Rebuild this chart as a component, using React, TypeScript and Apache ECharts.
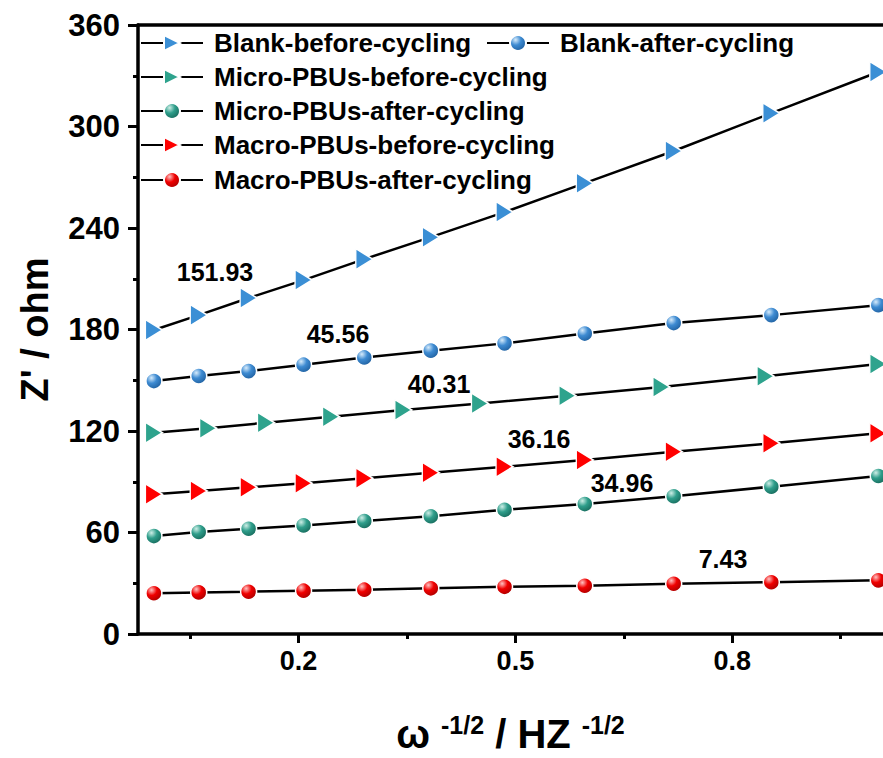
import React, { useEffect, useRef } from "react";
import * as echarts from "echarts";

// ω^-1/2 values (shared by most series)
const xCommon = [0.0, 0.062, 0.131, 0.207, 0.291, 0.383, 0.485, 0.596, 0.719, 0.854, 1.002];
// ω^-1/2 values for Micro-PBUs-before-cycling
const xMicroBefore = [0.0, 0.075, 0.155, 0.245, 0.345, 0.451, 0.572, 0.702, 0.846, 1.002];

const blankBefore = [179.7, 188.5, 198.6, 209.2, 221.6, 234.6, 249.4, 266.5, 285.5, 307.9, 332.2];
const blankAfter = [149.5, 152.5, 155.4, 159.2, 163.5, 167.5, 171.8, 177.6, 183.8, 188.5, 194.4];
const microBefore = [119.0, 121.6, 124.9, 128.4, 132.4, 136.3, 140.8, 146.0, 152.4, 159.6];
const microAfter = [57.9, 60.3, 62.2, 64.2, 66.8, 69.6, 73.4, 76.8, 81.4, 87.1, 93.4];
const macroBefore = [82.6, 84.5, 86.7, 89.1, 92.1, 95.3, 98.9, 102.8, 107.7, 112.7, 118.6];
const macroAfter = [24.1, 24.6, 25.0, 25.6, 26.2, 27.0, 27.9, 28.5, 29.7, 30.6, 31.7];

const seriesNames = [
  "Blank-before-cycling",
  "Blank-after-cycling",
  "Micro-PBUs-before-cycling",
  "Micro-PBUs-after-cycling",
  "Macro-PBUs-before-cycling",
  "Macro-PBUs-after-cycling",
];

const slopeLabels = ["151.93", "45.56", "40.31", "36.16", "34.96", "7.43"];

const xTickValues = [0.2, 0.5, 0.8];
const xMinorTickValues = [0.05, 0.35, 0.65, 0.95];

const FONT = "'Liberation Sans', Arial, Helvetica, sans-serif";

function ball(base: string, light: string, dark: string) {
  return new echarts.graphic.RadialGradient(0.35, 0.3, 0.75, [
    { offset: 0, color: light },
    { offset: 0.45, color: base },
    { offset: 1, color: dark },
  ]);
}

function makeSeries(name: string, xs: number[], ys: number[], kind: "tri" | "ball", color: any) {
  return {
    type: "line",
    name,
    data: xs.map((x, i) => [x, ys[i]]),
    symbol: kind === "tri" ? "triangle" : "circle",
    symbolSize: kind === "tri" ? [21, 17] : 16,
    symbolRotate: kind === "tri" ? -90 : 0,
    showAllSymbol: true,
    lineStyle: { color: "#000", width: 2.5 },
    itemStyle: { color, borderColor: "#fff", borderWidth: 1.5 },
    emphasis: { disabled: true },
    z: 3,
  };
}

export default function App() {
  const ref = useRef<HTMLDivElement>(null);
  useEffect(() => {
    if (!ref.current) return;
    const chart = echarts.init(ref.current, undefined, { renderer: "svg" });
    const xMin = -0.022;
    const xMax = 1.05;

    const legendRows = [
      { name: seriesNames[0], left: 140, top: 43 },
      { name: seriesNames[1], left: 486, top: 43 },
      { name: seriesNames[2], left: 140, top: 77 },
      { name: seriesNames[3], left: 140, top: 111 },
      { name: seriesNames[4], left: 140, top: 145 },
      { name: seriesNames[5], left: 140, top: 180 },
    ];

    const labelPos = [
      [215, 272],
      [338, 334],
      [439, 384],
      [539, 439],
      [622, 483],
      [723, 559],
    ];

    chart.setOption({
      animation: false,
      backgroundColor: "#fff",
      textStyle: { fontFamily: FONT },
      grid: {
        left: 138,
        top: 25,
        width: 775,
        height: 609,
        containLabel: false,
        outerBoundsMode: "none",
      },
      legend: legendRows.map((r) => ({
        data: [r.name],
        left: r.left,
        top: r.top - 13,
        padding: 0,
        itemWidth: 62,
        itemHeight: 20,
        selectedMode: false,
        textStyle: {
          fontSize: 26,
          fontWeight: "bold",
          color: "#000",
          fontFamily: FONT,
          padding: [0, 0, 0, 6],
        },
      })),
      xAxis: [
        {
          type: "value",
          position: "bottom",
          min: xMin,
          max: xMax,
          axisLine: { show: true, onZero: false, lineStyle: { color: "#000", width: 3.5 } },
          axisTick: { show: true, customValues: xTickValues, length: 9, lineStyle: { color: "#000", width: 3 } },
          axisLabel: {
            customValues: xTickValues,
            formatter: (v: number) => v.toFixed(1),
            fontSize: 27,
            fontWeight: "bold",
            color: "#000",
            fontFamily: FONT,
            margin: 13,
          },
          splitLine: { show: false },
          name: "{a|ω}{s| -1/2}{a| / HZ}{s| -1/2}",
          nameLocation: "middle",
          nameGap: 78,
          nameTextStyle: {
            padding: [0, 30, 0, 0],
            rich: {
              a: { fontSize: 40, fontWeight: "bold", color: "#000", fontFamily: FONT },
              s: { fontSize: 25, fontWeight: "bold", color: "#000", fontFamily: FONT, verticalAlign: "top", padding: [0, 0, 18, 4] },
            },
          },
        },
        {
          type: "value",
          position: "bottom",
          min: xMin,
          max: xMax,
          axisLine: { show: false, onZero: false },
          axisTick: { show: true, customValues: xMinorTickValues, length: 5, lineStyle: { color: "#000", width: 3 } },
          axisLabel: { show: false },
          splitLine: { show: false },
        },
        {
          type: "value",
          position: "top",
          min: xMin,
          max: xMax,
          axisLine: { show: true, onZero: false, lineStyle: { color: "#000", width: 3.5 } },
          axisTick: { show: false },
          axisLabel: { show: false },
          splitLine: { show: false },
        },
      ],
      yAxis: [
        {
          type: "value",
          min: 0,
          max: 360,
          interval: 60,
          axisLine: { show: true, onZero: false, lineStyle: { color: "#000", width: 3.5 } },
          axisTick: { show: true, length: 10, lineStyle: { color: "#000", width: 3 } },
          minorTick: { show: true, splitNumber: 2, length: 5, lineStyle: { color: "#000", width: 3 } },
          axisLabel: { fontSize: 31, fontWeight: "bold", color: "#000", fontFamily: FONT, margin: 18 },
          splitLine: { show: false },
          minorSplitLine: { show: false },
          name: "Z' / ohm",
          nameLocation: "middle",
          nameGap: 84,
          nameTextStyle: { fontSize: 38, fontWeight: "bold", color: "#000", fontFamily: FONT },
        },
      ],
      series: [
        makeSeries(seriesNames[0], xCommon, blankBefore, "tri", "#3b8fd5"),
        makeSeries(seriesNames[1], xCommon, blankAfter, "ball", ball("#3e8bd2", "#d6ebfb", "#1f5f9e")),
        makeSeries(seriesNames[2], xMicroBefore, microBefore, "tri", "#2ea38d"),
        makeSeries(seriesNames[3], xCommon, microAfter, "ball", ball("#2f9e8b", "#cdeee6", "#16685a")),
        makeSeries(seriesNames[4], xCommon, macroBefore, "tri", "#ff0000"),
        makeSeries(seriesNames[5], xCommon, macroAfter, "ball", ball("#f00000", "#ffc2c2", "#a80000")),
      ],
      graphic: slopeLabels.map((t, i) => ({
        type: "text",
        x: labelPos[i][0],
        y: labelPos[i][1],
        z: 10,
        style: {
          text: t,
          font: `bold 25px ${FONT}`,
          fill: "#000",
          align: "center",
          verticalAlign: "middle",
        },
      })),
    });
    return () => chart.dispose();
  }, []);
  return (
    <div
      ref={ref}
      style={{ position: "fixed", left: 0, top: 0, width: 883, height: 758 }}
    />
  );
}
